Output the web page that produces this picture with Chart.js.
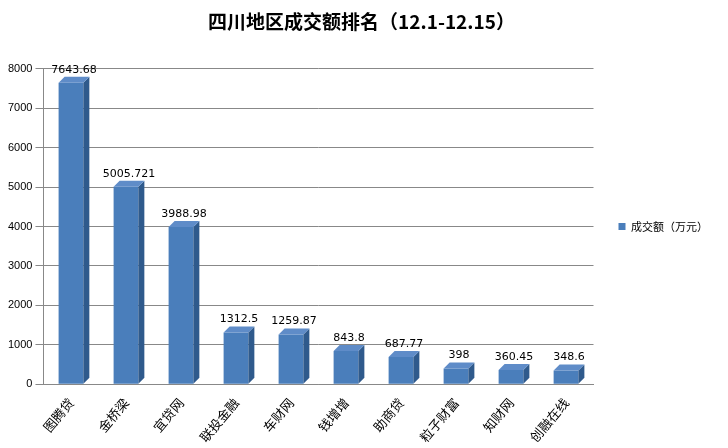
<!DOCTYPE html>
<html><head><meta charset="utf-8">
<script src="https://cdn.jsdelivr.net/npm/chart.js@4"></script>
<style>body{margin:0;background:#fff}#w{width:728px;height:448px}</style>
</head><body><div id="w"><canvas id="c"></canvas></div>
<script>
const categories=["图腾贷","金桥梁","宜贷网","联投金融","车财网","钱增增","助商贷","粒子财富","知财网","创融在线"];
const values=[7643.68,5005.721,3988.98,1312.5,1259.87,843.8,687.77,398,360.45,348.6];
const labels=["7643.68","5005.721","3988.98","1312.5","1259.87","843.8","687.77","398","360.45","348.6"];
const bar3d={id:'bar3d',afterDatasetsDraw(ch){
 const ctx=ch.ctx;const m=ch.getDatasetMeta(0);const d=6;
 m.data.forEach((b,i)=>{const l=b.x-b.width/2,r=b.x+b.width/2,t=b.y,bt=b.base;
  ctx.fillStyle='#2f5a8c';ctx.beginPath();ctx.moveTo(r,t);ctx.lineTo(r+d,t-d);ctx.lineTo(r+d,bt-d);ctx.lineTo(r,bt);ctx.fill();
  ctx.fillStyle='#5f8cc8';ctx.beginPath();ctx.moveTo(l,t);ctx.lineTo(l+d,t-d);ctx.lineTo(r+d,t-d);ctx.lineTo(r,t);ctx.fill();
  ctx.fillStyle='#000';ctx.font='11px "DejaVu Sans"';ctx.textAlign='center';ctx.fillText(labels[i],b.x+3,t-10);
 });}};
new Chart(document.getElementById('c'),{type:'bar',
 data:{labels:categories,datasets:[{label:'成交额（万元）',data:values,backgroundColor:'#4a7ebb',barPercentage:0.45,categoryPercentage:1}]},
 options:{responsive:true,maintainAspectRatio:false,animation:false,
  layout:{padding:{left:5,right:10,top:5,bottom:0}},
  plugins:{title:{display:true,text:'四川地区成交额排名（12.1-12.15）',font:{size:19,weight:'bold',family:'"Noto Sans CJK SC"'},color:'#000',padding:{top:5,bottom:36}},
   legend:{position:'right',labels:{boxWidth:7,boxHeight:7,padding:25,font:{size:11,family:'"Noto Sans CJK SC"'},color:'#000'}},tooltip:{enabled:false}},
  scales:{x:{grid:{display:false},border:{color:'#888'},ticks:{maxRotation:50,minRotation:50,color:'#000',font:{size:13,family:'"Noto Sans CJK SC"'}}},
   y:{min:0,max:8000,ticks:{stepSize:1000,color:'#000',font:{size:11},callback:v=>String(v)},grid:{color:'#888'},border:{color:'#888'}}}}
 ,plugins:[bar3d]});
</script></body></html>
